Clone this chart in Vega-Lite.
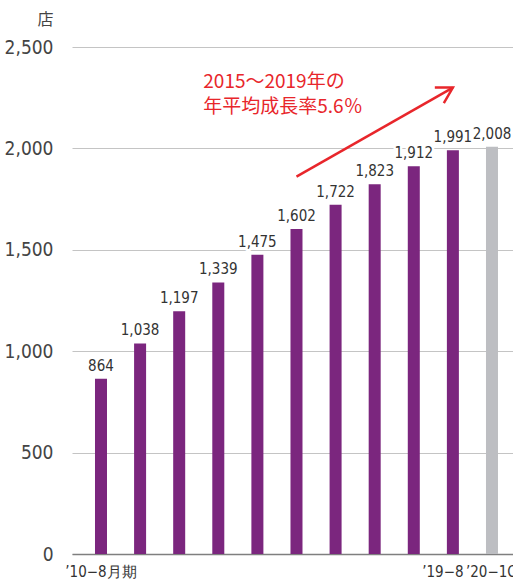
{
  "$schema": "https://vega.github.io/schema/vega-lite/v6.json",
  "width": 441,
  "height": 507,
  "autosize": {"type": "none"},
  "padding": {"left": 72, "top": 47, "right": 0, "bottom": 32},
  "background": "white",
  "config": {"view": {"stroke": null}, "font": "DejaVu Sans Condensed"},
  "data": {
    "values": [
      {"period": "’10−8月期", "value": 864, "kind": "annual"},
      {"period": "’11−8", "value": 1038, "kind": "annual"},
      {"period": "’12−8", "value": 1197, "kind": "annual"},
      {"period": "’13−8", "value": 1339, "kind": "annual"},
      {"period": "’14−8", "value": 1475, "kind": "annual"},
      {"period": "’15−8", "value": 1602, "kind": "annual"},
      {"period": "’16−8", "value": 1722, "kind": "annual"},
      {"period": "’17−8", "value": 1823, "kind": "annual"},
      {"period": "’18−8", "value": 1912, "kind": "annual"},
      {"period": "’19−8", "value": 1991, "kind": "annual"},
      {"period": "’20−1Q", "value": 2008, "kind": "quarter"}
    ]
  },
  "encoding": {
    "x": {
      "field": "period",
      "type": "nominal",
      "sort": null,
      "scale": {
        "domain": ["’10−8月期", "’11−8", "’12−8", "’13−8", "’14−8", "’15−8", "’16−8", "’17−8", "’18−8", "’19−8", "’20−1Q"],
        "paddingInner": 0.693,
        "paddingOuter": 0.486,
        "align": 0.605
      },
      "axis": {
        "title": null,
        "labelAngle": 0,
        "ticks": false,
        "grid": false,
        "domainColor": "#7f7f7f",
        "domainWidth": 1.5,
        "labelFont": "DejaVu Sans Condensed",
        "labelFontSize": 15,
        "labelColor": "#333333",
        "labelPadding": 10,
        "labelOverlap": false,
        "labelExpr": "indexof([\"’10−8月期\",\"’19−8\",\"’20−1Q\"], datum.value) >= 0 ? datum.value : ''",
        "labelOffset": {"condition": {"test": "datum.value === '’19−8'", "value": -10}, "value": 0}
      }
    },
    "y": {
      "field": "value",
      "type": "quantitative",
      "scale": {"domain": [0, 2500], "nice": false},
      "axis": {
        "title": "店",
        "titleAngle": 0,
        "titleAlign": "right",
        "titleBaseline": "alphabetic",
        "titleX": -19,
        "titleY": -23,
        "titleFont": "Noto Sans CJK JP",
        "titleFontSize": 16,
        "titleFontWeight": "normal",
        "titleColor": "#444444",
        "values": [0, 500, 1000, 1500, 2000, 2500],
        "format": ",.0f",
        "grid": true,
        "gridColor": "#c4c4c4",
        "gridWidth": 1,
        "domain": false,
        "ticks": false,
        "tickSize": 0,
        "labelPadding": 19,
        "labelFont": "DejaVu Sans Condensed",
        "labelFontSize": 19,
        "labelColor": "#444444"
      }
    }
  },
  "layer": [
    {
      "mark": {"type": "bar"},
      "encoding": {
        "color": {
          "field": "kind",
          "type": "nominal",
          "scale": {"domain": ["annual", "quarter"], "range": ["#7b267e", "#bdbec2"]},
          "legend": null
        }
      }
    },
    {
      "mark": {"type": "text", "dy": -8, "baseline": "alphabetic", "fontSize": 15, "stroke": "white", "strokeWidth": 5, "strokeJoin": "round", "fill": "white"},
      "encoding": {"text": {"field": "value", "type": "quantitative", "format": ",.0f"}}
    },
    {
      "mark": {"type": "text", "dy": -8, "baseline": "alphabetic", "fontSize": 15, "color": "#333333"},
      "encoding": {"text": {"field": "value", "type": "quantitative", "format": ",.0f"}}
    },
    {
      "data": {"values": [{"period": "’15−8", "value": 1861}, {"period": "’19−8", "value": 2300}]},
      "mark": {"type": "line", "color": "#e8262b", "strokeWidth": 2.5}
    },
    {
      "data": {"values": [{"period": "’19−8", "value": 2300}]},
      "mark": {"type": "point", "shape": "M -0.87 -0.5 L 0 0 L -0.87 0.5", "filled": false, "stroke": "#e8262b", "strokeWidth": 2.5, "size": 1296, "angle": -30, "opacity": 1}
    },
    {
      "data": {"values": [{"period": "’13−8", "value": 2300, "note": "2015～2019年の\n年平均成長率5.6％"}]},
      "mark": {"type": "text", "align": "left", "baseline": "alphabetic", "dx": -15, "lineBreak": "\n", "lineHeight": 25, "font": "Noto Sans CJK JP", "fontSize": 19, "color": "#e8262b"},
      "encoding": {"text": {"field": "note", "type": "nominal"}}
    }
  ]
}
